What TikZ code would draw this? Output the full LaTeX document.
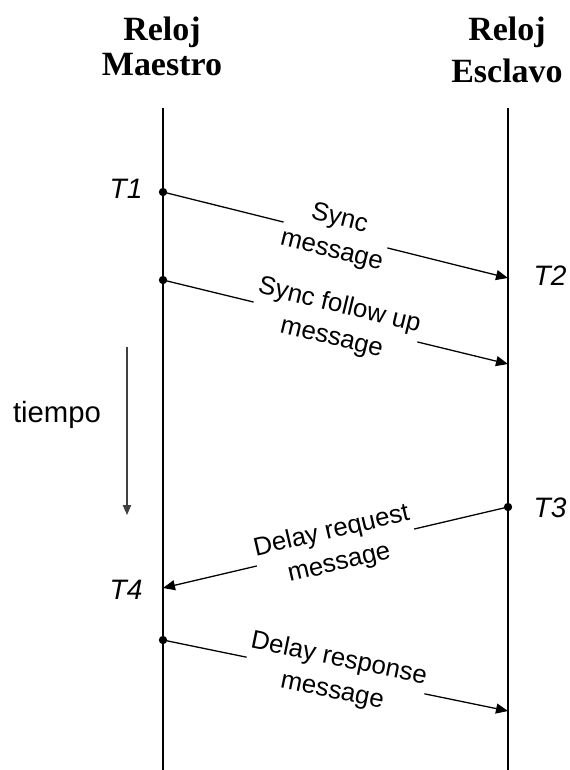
\documentclass[tikz,border=0pt]{standalone}
\usepackage{fontspec}
\setmainfont{Liberation Sans}
\newfontfamily\headfont{Liberation Serif}
\usepackage{tikz}
\usetikzlibrary{positioning,arrows.meta}
\tikzset{
  clock/.style={font=\headfont\bfseries\fontsize{29}{30}\selectfont, align=center, inner sep=0pt},
  stamp/.style={font=\itshape\fontsize{24}{26}\selectfont, inner sep=0pt},
  msg/.style={-{Triangle[length=3.6mm,width=3mm]}, line width=1.1pt},
  msglabel/.style={font=\fontsize{22}{28}\selectfont, align=center, fill=white,
    inner sep=1pt, sloped, midway},
  dot/.style={circle, fill, inner sep=0pt, minimum size=2.5mm},
  timeline/.style={line width=1.1pt}
}

\begin{document}
\begin{tikzpicture}[x=0.03cm, y=-0.03cm]
  \useasboundingbox (0,0) rectangle (570,770);
  % clock headings
  \node[clock] (master) at (162,46) {Reloj\\Maestro};
  \node[clock] (slave) at (507,50) {Reloj\\[6pt]Esclavo};
  % time lines of both clocks
  \coordinate (mtop) at (163,108);
  \coordinate (mbot) at (163,770);
  \coordinate (stop) at (508,108);
  \coordinate (sbot) at (508,770);
  \draw[timeline] (mtop) -- (mbot);
  \draw[timeline] (stop) -- (sbot);
  % send and receive points
  \coordinate (t1) at (163,192);
  \coordinate (t2) at (508,278);
  \coordinate (f1) at (163,280);
  \coordinate (f2) at (508,364);
  \coordinate (t3) at (508,507);
  \coordinate (t4) at (163,588);
  \coordinate (r1) at (163,640);
  \coordinate (r2) at (508,711);
  \node[dot] (dt1) at (t1) {};
  \node[dot] (df1) at (f1) {};
  \node[dot] (dt3) at (t3) {};
  \node[dot] (dr1) at (r1) {};
  % messages
  \draw[msg] (t1) -- (t2) node[msglabel] {Sync\\message};
  \draw[msg] (f1) -- (f2) node[msglabel] {Sync follow up\\message};
  \draw[msg] (t3) -- (t4) node[msglabel] {Delay request\\message};
  \draw[msg] (r1) -- (r2) node[msglabel] {Delay response\\message};
  % timestamps
  \node[stamp] (lt1) at (126,189) {T1};
  \node[stamp] (lt2) at (550,276) {T2};
  \node[stamp] (lt3) at (550,508) {T3};
  \node[stamp] (lt4) at (126,590) {T4};
  % direction of time
  \node[font=\fontsize{25}{28}\selectfont, inner sep=0pt] (tiempo) at (57,415) {tiempo};
  \coordinate (ttop) at (127,347);
  \coordinate (tbot) at (127,515);
  \draw[-{Triangle[length=3mm,width=2.5mm]}, line width=0.9pt, black!75] (ttop) -- (tbot);
\end{tikzpicture}
\end{document}
